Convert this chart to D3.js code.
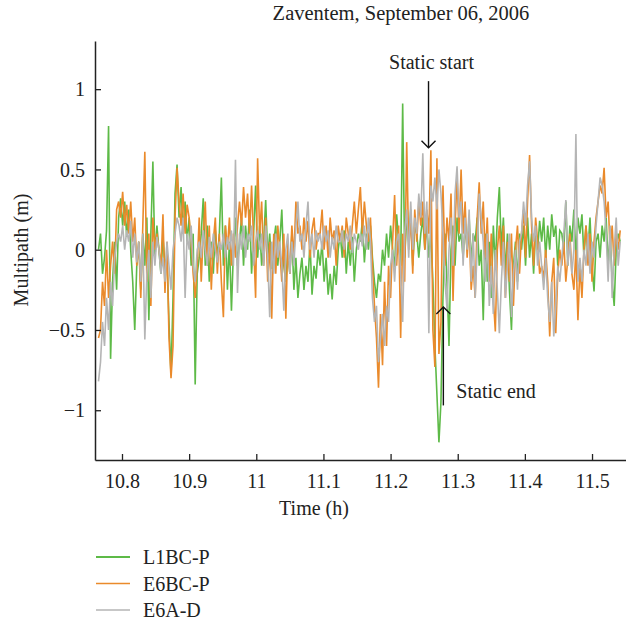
<!DOCTYPE html>
<html>
<head>
<meta charset="utf-8">
<script src="https://cdn.jsdelivr.net/npm/d3@7"></script>
<style>
  html, body { margin: 0; padding: 0; background: #fff; }
  svg { display: block; }
  text { font-family: "Liberation Serif", "DejaVu Serif", serif; fill: #222; }
</style>
</head>
<body>
<svg id="chart" width="626" height="625"></svg>
<script>
// Multipath time series, Zaventem, 6 September 2006
// Sampling clock of the logged series (hours)
const startTime = 10.765;
const sampleStep = 0.003;

// L1BC-P multipath (m)
const l1bcP = [
  0.0, 0.1, -0.15, -0.05, 0.12, 0.77, -0.68, -0.2, 0.05, -0.25,
  0.2, 0.32, 0.15, 0.3, 0.08, 0.25, 0.0, -0.2, -0.5, -0.1,
  0.05, -0.25, 0.1, -0.1, 0.2, -0.44, 0.1, 0.55, -0.05, 0.15,
  0.0, -0.15, 0.08, -0.1, -0.05, -0.45, -0.78, -0.3, 0.35, 0.53,
  0.2, 0.39, 0.1, 0.3, 0.05, 0.2, -0.1, 0.1, -0.84, -0.15,
  -0.05, 0.1, 0.32, -0.1, 0.15, -0.2, 0.05, -0.15, 0.12, -0.05,
  0.1, 0.45, -0.1, 0.15, -0.25, 0.05, -0.38, 0.0, 0.2, -0.1,
  0.05, 0.2, -0.1, 0.15, 0.0, 0.25, -0.15, 0.1, 0.4, -0.05,
  0.15, -0.1, 0.05, 0.31, -0.05, 0.1, -0.12, 0.05, 0.15, -0.1,
  0.05, 0.25, -0.1, -0.2, 0.0, -0.15, 0.1, -0.25, -0.05, -0.3,
  -0.15, -0.05, -0.25, -0.1, -0.2, 0.05, -0.28, -0.1, -0.18, 0.0,
  -0.1, 0.05, -0.2, -0.05, -0.28, -0.15, -0.31, -0.1, -0.22, 0.0,
  0.1, -0.05, 0.12, -0.15, 0.05, -0.1, 0.08, -0.2, 0.0, 0.1,
  0.05, 0.18, -0.08, 0.1, 0.0, 0.15, -0.05, -0.2, -0.3, -0.15,
  -0.2, 0.0, -0.1, 0.1, -0.05, 0.15, 0.0, -0.12, 0.22, 0.05,
  -0.1, 0.91, -0.05, 0.2, 0.05, 0.25, -0.1, 0.15, 0.1, -0.05,
  0.1, 0.2, 0.0, 0.15, -0.05, 0.1, -0.2, -0.6, -0.9, -1.2,
  -0.95, -0.3, 0.1, -0.2, -0.6, 0.0, 0.15, -0.1, 0.2, 0.05,
  0.1, -0.05, 0.15, 0.0, 0.2, -0.08, 0.1, 0.05, 0.2, -0.1,
  0.0, -0.44, 0.1, -0.2, 0.05, -0.3, 0.15, -0.1, 0.2, 0.39,
  0.0, 0.2, -0.15, 0.1, -0.25, -0.5, -0.1, 0.05, -0.2, 0.1,
  0.0, 0.15, -0.1, 0.2, -0.05, 0.1, -0.15, 0.12, 0.0, 0.18,
  0.05, 0.2, -0.05, 0.15, 0.0, 0.22, 0.08, 0.15, -0.1, 0.12,
  0.1, 0.0, 0.3, -0.1, 0.15, 0.05, 0.25, -0.05, 0.2, 0.1,
  0.22, -0.05, 0.15, 0.0, 0.2, -0.1, -0.26, 0.05, 0.1, -0.05,
  0.15, 0.05, 0.2, -0.1, 0.1, -0.2, -0.35, 0.0, 0.1, 0.05
];

// E6BC-P multipath (m)
const e6bcP = [
  -0.55, -0.5, -0.2, -0.35, 0.0, -0.3, -0.1, 0.05, -0.15, 0.25,
  0.3, 0.2, 0.36, 0.15, 0.28, 0.1, 0.3, 0.05, 0.2, -0.1,
  0.05, -0.3, 0.15, 0.61, -0.2, 0.1, -0.35, 0.2, 0.0, 0.1,
  0.0, -0.1, 0.22, -0.27, 0.05, -0.55, -0.8, -0.6, 0.2, 0.51,
  0.3, 0.15, 0.35, 0.1, 0.28, 0.2, 0.05, -0.15, -0.3, -0.1,
  0.2, -0.2, 0.1, 0.3, -0.1, 0.15, -0.25, 0.05, 0.2, -0.15,
  0.1, -0.2, -0.42, 0.15, 0.0, 0.2, -0.1, 0.1, -0.05, 0.15,
  0.3, 0.15, 0.39, 0.2, 0.35, 0.1, 0.4, 0.05, -0.3, 0.57,
  0.1, 0.3, -0.1, 0.2, -0.2, 0.05, -0.43, 0.1, -0.15, 0.15,
  0.0, -0.2, 0.1, -0.43, 0.05, -0.15, 0.15, -0.05, 0.3, 0.1,
  0.15, 0.0, 0.2, 0.05, 0.18, -0.05, 0.12, 0.2, 0.0, 0.1,
  0.1, 0.25, 0.0, 0.15, -0.05, 0.2, 0.05, 0.12, -0.1, 0.15,
  0.05, 0.15, -0.05, 0.2, 0.1, 0.0, 0.15, 0.3, 0.1, 0.25,
  0.39, 0.1, 0.3, 0.15, 0.05, 0.2, -0.1, -0.35, -0.55, -0.86,
  -0.4, -0.72, -0.2, -0.6, -0.1, -0.3, 0.05, 0.34, -0.1, 0.15,
  -0.55, 0.1, -0.2, 0.67, 0.0, 0.2, -0.15, 0.25, 0.05, 0.3,
  0.15, 0.3, 0.0, 0.25, 0.1, 0.62, -0.5, -0.73, 0.57, -0.65,
  -0.45, 0.4, -0.1, 0.2, 0.05, 0.35, -0.32, 0.15, 0.45, 0.1,
  0.5, 0.1, 0.3, -0.05, 0.15, -0.25, -0.1, -0.3, 0.2, 0.42,
  0.1, 0.3, -0.05, 0.2, -0.2, 0.1, -0.3, -0.51, 0.0, 0.15,
  -0.1, 0.15, -0.3, 0.05, -0.2, 0.1, -0.35, 0.0, 0.15, -0.15,
  0.1, 0.25, -0.05, 0.3, 0.59, 0.15, -0.1, 0.2, 0.05, -0.15,
  -0.1, -0.18, 0.0, -0.2, -0.54, -0.2, -0.05, -0.52, -0.15, 0.0,
  -0.1, 0.05, -0.2, -0.05, 0.1, -0.15, -0.25, 0.0, -0.44, -0.1,
  -0.3, 0.0, 0.15, -0.1, 0.1, -0.2, 0.05, 0.2, 0.3, 0.4,
  0.35, 0.51, 0.2, 0.3, 0.0, 0.15, -0.1, 0.1, 0.0, 0.12
];

// E6A-D multipath (m)
const e6aD = [
  -0.82, -0.7, -0.45, -0.6, -0.3, -0.5, -0.2, -0.35, -0.05, 0.05,
  0.1, 0.05, 0.15, 0.0, 0.12, 0.05, 0.18, -0.05, 0.1, -0.08,
  0.05, -0.2, 0.1, -0.56, -0.15, 0.0, -0.3, 0.05, -0.1, 0.08,
  0.0, -0.15, -0.05, -0.2, 0.05, -0.1, -0.25, 0.0, 0.1, 0.2,
  0.15, 0.05, 0.2, -0.3, 0.1, 0.0, 0.15, -0.1, -0.2, 0.0,
  0.05, -0.05, 0.12, 0.0, -0.1, 0.08, -0.05, 0.1, 0.0, -0.08,
  0.05, 0.0, 0.1, -0.05, 0.08, 0.0, 0.12, -0.1, 0.56, -0.27,
  0.1, 0.0, 0.15, -0.05, 0.1, 0.05, 0.15, -0.1, 0.05, 0.12,
  0.0, 0.1, -0.1, 0.15, -0.05, -0.42, 0.05, -0.15, 0.1, -0.05,
  0.05, -0.1, -0.38, 0.0, 0.1, -0.15, 0.05, -0.1, 0.15, 0.3,
  0.05, 0.1, -0.05, 0.15, 0.3, 0.0, 0.1, -0.05, 0.12, 0.05,
  0.1, 0.0, 0.15, 0.05, 0.12, -0.05, 0.08, 0.0, 0.15, 0.05,
  0.05, 0.12, 0.0, 0.1, 0.05, 0.15, -0.02, 0.1, 0.05, 0.0,
  0.1, 0.02, 0.15, 0.0, 0.2, 0.05, -0.3, -0.45, -0.35, -0.7,
  -0.55, -0.4, -0.6, -0.35, -0.45, -0.1, 0.0, -0.2, 0.05, 0.1,
  -0.15, -0.45, 0.1, 0.25, -0.05, 0.3, 0.0, 0.2, 0.1, 0.35,
  0.2, 0.6, 0.1, 0.3, -0.52, 0.4, 0.3, 0.45, 0.25, 0.5,
  0.35, 0.1, -0.2, -0.37, 0.0, 0.2, -0.1, 0.35, 0.52, 0.2,
  0.3, -0.1, 0.2, 0.0, 0.25, -0.2, 0.1, -0.3, 0.0, 0.35,
  0.2, 0.05, -0.2, 0.1, -0.35, -0.1, -0.4, 0.0, -0.25, -0.52,
  -0.2, 0.05, -0.3, -0.1, 0.1, -0.42, -0.15, 0.0, -0.25, 0.05,
  0.1, 0.3, 0.15, 0.4, 0.55, 0.2, 0.05, 0.15, -0.1, 0.05,
  -0.1, -0.25, -0.05, -0.3, -0.45, -0.2, -0.54, -0.35, -0.1, -0.2,
  -0.05, 0.1, 0.31, -0.1, 0.05, -0.15, 0.0, 0.72, -0.2, -0.05,
  -0.2, 0.0, -0.1, 0.1, -0.15, 0.05, -0.05, 0.15, 0.3, 0.45,
  0.4, 0.3, 0.1, -0.2, 0.15, -0.3, 0.0, 0.2, -0.1, 0.05
];

const seriesNames = ["L1BC-P", "E6BC-P", "E6A-D"];
const seriesColors = ["#5dba47", "#ea8a2b", "#b5b5b5"];
const xTicks = [10.8, 10.9, 11, 11.1, 11.2, 11.3, 11.4, 11.5];
const yTicks = [-1, -0.5, 0, 0.5, 1];

// Event markers: [label, time (h), arrow tail (m), arrow tip (m)]
const staticStart = ["Static start", 11.2565, 1.05, 0.635];
const staticEnd = ["Static end", 11.2786, -0.97, -0.357];

const svg = d3.select("#chart");
const plot = { left: 95, right: 626, top: 41, bottom: 460 };

const x = d3.scaleLinear().domain([10.7598, 11.5506]).range([plot.left, plot.right]);
const y = d3.scaleLinear().domain([-1.31, 1.30]).range([plot.bottom, plot.top]);

svg.append("defs").append("clipPath").attr("id", "plot-clip")
  .append("rect")
  .attr("x", plot.left).attr("y", plot.top)
  .attr("width", plot.right - plot.left).attr("height", plot.bottom - plot.top);

const line = d3.line()
  .x((d, i) => x(startTime + i * sampleStep))
  .y(d => y(d));

const traces = svg.append("g").attr("clip-path", "url(#plot-clip)");
[l1bcP, e6bcP, e6aD].forEach((vals, k) => {
  traces.append("path")
    .datum(vals)
    .attr("fill", "none")
    .attr("stroke", seriesColors[k])
    .attr("stroke-width", 1.6)
    .attr("stroke-linejoin", "miter")
    .attr("d", line);
});

// Axes with inward ticks
const fmt = d => (d < 0 ? "\u2212" + Math.abs(d) : String(d));
const xAxis = svg.append("g")
  .attr("transform", `translate(0,${plot.bottom})`)
  .call(d3.axisBottom(x).tickValues(xTicks).tickSizeInner(-6).tickSizeOuter(0).tickFormat(fmt));
const yAxis = svg.append("g")
  .attr("transform", `translate(${plot.left},0)`)
  .call(d3.axisLeft(y).tickValues(yTicks).tickSizeInner(-6).tickSizeOuter(0).tickFormat(fmt));

[xAxis, yAxis].forEach(ax => {
  ax.select(".domain").attr("stroke", "#222").attr("stroke-width", 1.5);
  ax.selectAll(".tick line").attr("stroke", "#222").attr("stroke-width", 1.3);
  ax.selectAll(".tick text")
    .attr("fill", "#222")
    .style("font-family", '"Liberation Serif", "DejaVu Serif", serif')
    .style("font-size", "20px");
});
xAxis.selectAll(".tick text").attr("y", 14).attr("dy", "0.71em");
yAxis.selectAll(".tick text").attr("x", -10).attr("dy", "0.33em");

// Titles
svg.append("text")
  .attr("x", 401).attr("y", 20)
  .attr("text-anchor", "middle")
  .style("font-size", "20.5px")
  .text("Zaventem, September 06, 2006");

svg.append("text")
  .attr("x", 314).attr("y", 515)
  .attr("text-anchor", "middle")
  .style("font-size", "20px")
  .text("Time (h)");

svg.append("text")
  .attr("transform", "translate(28,250) rotate(-90)")
  .attr("text-anchor", "middle")
  .style("font-size", "20px")
  .text("Multipath (m)");

// Event arrows
function arrow(ev) {
  const ax = x(ev[1]);
  const y0 = y(ev[2]);
  const y1 = y(ev[3]);
  const dir = y1 > y0 ? 1 : -1;
  const g = svg.append("g").attr("stroke", "#111").attr("stroke-width", 1.4).attr("fill", "none");
  g.append("line").attr("x1", ax).attr("x2", ax).attr("y1", y0).attr("y2", y1);
  g.append("polyline")
    .attr("points", `${ax - 7},${y1 - dir * 7} ${ax},${y1} ${ax + 7},${y1 - dir * 7}`);
  return ax;
}
const sx = arrow(staticStart);
svg.append("text")
  .attr("x", sx + 3).attr("y", 69)
  .attr("text-anchor", "middle")
  .style("font-size", "20px")
  .text(staticStart[0]);

const ex = arrow(staticEnd);
svg.append("text")
  .attr("x", ex + 13).attr("y", 398)
  .style("font-size", "20px")
  .text(staticEnd[0]);

// Legend
const legend = svg.append("g");
seriesNames.forEach((name, k) => {
  const ly = 557 + k * 26.5;
  legend.append("line")
    .attr("x1", 96).attr("x2", 130)
    .attr("y1", ly).attr("y2", ly)
    .attr("stroke", seriesColors[k])
    .attr("stroke-width", k === 0 ? 2 : 1.5);
  legend.append("text")
    .attr("x", 143).attr("y", ly + 7)
    .style("font-size", "20px")
    .text(name);
});
</script>
</body>
</html>
